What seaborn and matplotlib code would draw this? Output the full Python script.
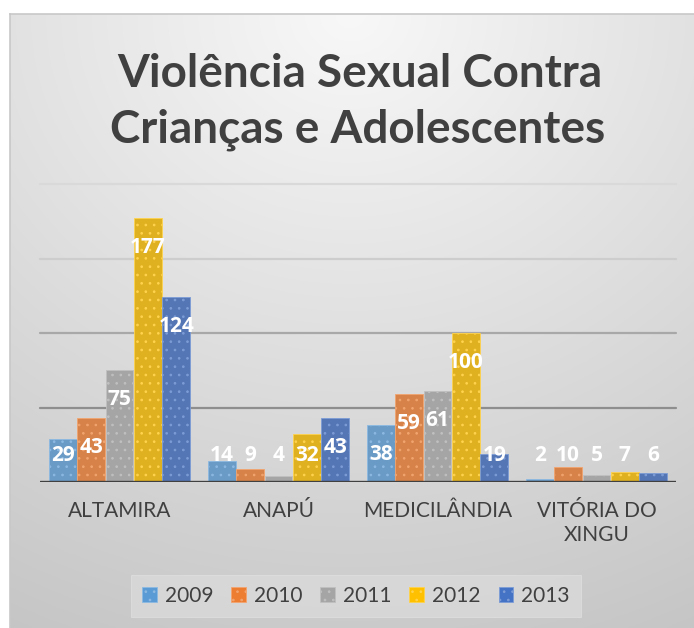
import numpy as np
import pandas as pd
import matplotlib
matplotlib.use("Agg")
import matplotlib.pyplot as plt
import seaborn as sns
from matplotlib.patches import Patch
import matplotlib.colors as mcolors

categories = ["ALTAMIRA", "ANAPÚ", "MEDICILÂNDIA", "VITÓRIA DO\nXINGU"]
years = ["2009", "2010", "2011", "2012", "2013"]
v2009 = [29, 14, 38, 2]
v2010 = [43, 9, 59, 10]
v2011 = [75, 4, 61, 5]
v2012 = [177, 32, 100, 7]
v2013 = [124, 43, 19, 6]
colors = ["#5B9BD5", "#ED7D31", "#A5A5A5", "#FFC000", "#4472C4"]
title_lines = ["Violência Sexual Contra", "Crianças e Adolescentes"]

series = [v2009, v2010, v2011, v2012, v2013]
rows = []
for y, vals in zip(years, series):
    for c, v in zip(categories, vals):
        rows.append({"cat": c, "year": y, "val": v})
df = pd.DataFrame(rows)

sns.set_theme(style="white")
plt.rcParams["font.family"] = ["Lato", "DejaVu Sans"]
plt.rcParams["hatch.linewidth"] = 0.7

W, H = 694, 628
fig = plt.figure(figsize=(W / 100, H / 100), dpi=100)
fig.patch.set_facecolor("white")

# background gradient of chart area
bg = fig.add_axes([10 / W, 0, 1 - 10 / W, (H - 14) / H], zorder=-10)
yy, xx = np.mgrid[0:614, 0:684]
d = np.sqrt(((xx - 340) / 700.0) ** 2 + (yy / 620.0) ** 2)
g = np.clip(248 - 46 * d, 0, 255) / 255.0
bg.imshow(np.dstack([g, g, g]), aspect="auto", extent=[0, 1, 0, 1], origin="upper")
bg.set_xticks([]); bg.set_yticks([])
for s in ["left", "top"]:
    bg.spines[s].set_color("#c8c8c8"); bg.spines[s].set_linewidth(1.2)
for s in ["right", "bottom"]:
    bg.spines[s].set_visible(False)

ax = fig.add_axes([40 / W, 1 - 482 / H, (676 - 40) / W, (482 - 184) / H])
ax.set_facecolor("none")
sns.barplot(data=df, x="cat", y="val", hue="year", order=categories, hue_order=years,
            palette=colors, width=0.894, gap=0.02, ax=ax, legend=False, zorder=3)

ax.set_ylim(0, 200)
ax.set_xlim(-0.5, len(categories) - 0.5)
grid_cols = {50: "#8e8e8e", 100: "#a8a8a8", 150: "#cdcdcd", 200: "#d9d9d9"}
for gv, gc in grid_cols.items():
    ax.axhline(gv, color=gc, lw=1.6, zorder=1, clip_on=False)
ax.axhline(0, color="#404040", lw=2.4, zorder=5)


def tint(col, f):
    return tuple((1 - f) * c + f for c in mcolors.to_rgb(col))


for cont, col in zip(ax.containers, colors):
    for p in cont.patches:
        p.set_hatch("..")
        p.set_edgecolor(tint(col, 0.3))
        p.set_linewidth(0.6)
for cont, vals in zip(ax.containers, series):
    for p, v in zip(cont.patches, vals):
        x = p.get_x() + p.get_width() / 2
        ypos = max(v - 19.6, 17.6)
        ax.text(x, ypos, str(v), ha="center", va="center", color="white",
                fontsize=15, fontweight="bold", family=["Open Sans", "DejaVu Sans"],
                zorder=6)

ax.set_yticks([])
ax.set_xlabel(""); ax.set_ylabel("")
ax.tick_params(axis="x", length=0, pad=14, labelsize=15, labelcolor="#404040")
for s in ax.spines.values():
    s.set_visible(False)

fig.text(360 / W, 1 - 87 / H, title_lines[0], ha="center", va="baseline",
         fontsize=33, fontweight="bold", color="#404040")
fig.text(358 / W, 1 - 142 / H, title_lines[1], ha="center", va="baseline",
         fontsize=33, fontweight="bold", color="#404040")

handles = []
for col in colors:
    handles.append(Patch(facecolor=col, edgecolor=tint(col, 0.3), hatch="..", linewidth=0.6))
leg = fig.legend(handles, years, loc="center", bbox_to_anchor=(356 / W, 1 - 596 / H),
                 ncol=5, frameon=True, fontsize=15, handlelength=0.7, handleheight=0.7,
                 handletextpad=0.4, columnspacing=0.85, borderpad=0.55, fancybox=False,
                 labelcolor="#404040")
fr = leg.get_frame()
fr.set_facecolor("#dadada"); fr.set_edgecolor("#e4e4e4"); fr.set_linewidth(0.5)

fig.savefig("out.png", dpi=100)
